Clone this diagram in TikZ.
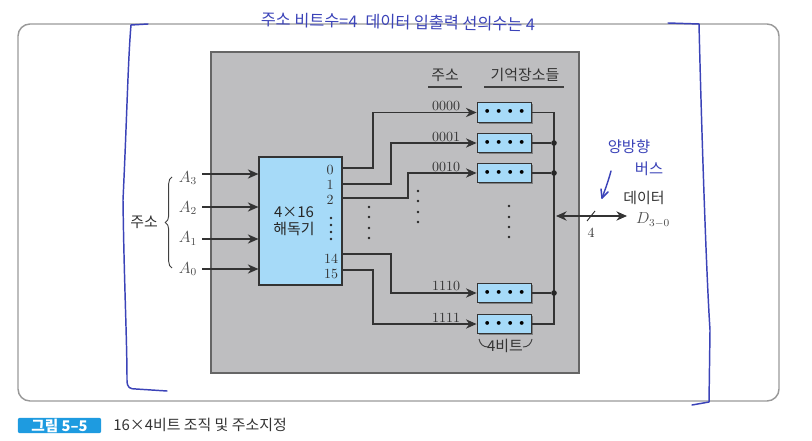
\documentclass[tikz,border=0pt]{standalone}
\usepackage{fontspec}
\newfontfamily\krfont{Noto Sans CJK KR}
\usetikzlibrary{arrows.meta, shadows, decorations.pathreplacing}
\definecolor{panelgray}{HTML}{BEBEC0}
\definecolor{cellblue}{HTML}{A6DAF8}
\definecolor{penblue}{HTML}{3B43B8}
\definecolor{badgeblue}{HTML}{1E9BE0}
\newcommand{\memdots}{\makebox[8.6pt]{\textbullet}\makebox[8.6pt]{\textbullet}\makebox[8.6pt]{\textbullet}\makebox[8.6pt]{\textbullet}}
\begin{document}
\begin{tikzpicture}[
    x=0.75pt,
    y=-0.75pt,
    wire/.style={
        draw=black!80,
        line width=0.8pt,
    },
    feed/.style={
        wire,
        -{Stealth[length=8pt,width=7pt]},
    },
    decoder/.style={
        draw=black!80,
        line width=0.9pt,
        fill=cellblue,
        inner sep=0pt,
        minimum width=62.25pt,
        minimum height=96pt,
        general shadow={shadow xshift=1pt, shadow yshift=-1pt, fill=black!50},
    },
    memcell/.style={
        draw=black!80,
        line width=0.9pt,
        fill=cellblue,
        inner sep=0pt,
        minimum width=41pt,
        minimum height=14.8pt,
        font=\normalsize,
        general shadow={shadow xshift=1.2pt, shadow yshift=-1.2pt, fill=black!50},
    },
    junction/.style={
        circle,
        fill=black!85,
        inner sep=0pt,
        minimum size=4.2pt,
    },
    addr/.style={
        font=\fontsize{10.5}{12}\selectfont,
        text=black!80,
        inner sep=0pt,
    },
    symb/.style={
        font=\fontsize{12}{14}\selectfont,
        text=black!70,
        inner sep=0pt,
    },
    krtext/.style={
        font=\krfont\fontsize{11.2}{13}\selectfont,
        text=black!80,
        inner sep=0pt,
    },
    tinydot/.style={
        circle,
        fill=black!85,
        inner sep=0pt,
        minimum size=1.9pt,
    },
    pen/.style={
        draw=penblue,
        line width=1.1pt,
        line cap=round,
        line join=round,
    },
    pentext/.style={
        text=penblue,
        inner sep=0pt,
    }
]
    \useasboundingbox (0,0) rectangle (812,441);

    % Frame
    \draw[black!40, line width=1.1pt, rounded corners=9pt] (18,24) rectangle (779,401);
    \draw[black!60, fill=panelgray, line width=0.9pt] (211,52) rectangle (579,373);

    % Headers
    \node[krtext] (hdraddr) at (445,75) {주소};
    \node[krtext] (hdrmem) at (525,75) {기억장소들};
    \draw[black!75, line width=0.8pt] (428,87) -- (462,87);
    \draw[black!75, line width=0.8pt] (484,87) -- (564,87);

    % Decoder
    \node[decoder] (dec) at (300.5,221) {};
    \node[krtext, text=black!85] (decsize) at (294,212) {4×16};
    \node[krtext, text=black!85] (decname) at (294,229) {해독기};
    \node[addr] (out0) at (330,170) {0};
    \node[addr] (out1) at (330,185) {1};
    \node[addr] (out2) at (330,200) {2};
    \node[tinydot] (decdota) at (331,218) {};
    \node[tinydot] (decdotb) at (331,225) {};
    \node[tinydot] (decdotc) at (331,232) {};
    \node[tinydot] (decdotd) at (331,239) {};
    \node[addr] (out14) at (331,259) {14};
    \node[addr] (out15) at (331,274) {15};

    % Inputs
    \coordinate (ina3) at (202,174);
    \coordinate (ina2) at (202,207);
    \coordinate (ina1) at (202,239);
    \coordinate (ina0) at (202,269);
    \draw[feed] (ina3) -- (ina3 -| dec.west);
    \draw[feed] (ina2) -- (ina2 -| dec.west);
    \draw[feed] (ina1) -- (ina1 -| dec.west);
    \draw[feed] (ina0) -- (ina0 -| dec.west);
    \node[symb] (lbla3) at (188,178) {$A_3$};
    \node[symb] (lbla2) at (188,208) {$A_2$};
    \node[symb] (lbla1) at (188,238.5) {$A_1$};
    \node[symb] (lbla0) at (188,269) {$A_0$};
    \draw[black!75, line width=0.7pt, decorate, decoration={brace, amplitude=5pt}] (172,268) -- (172,177);
    \node[krtext] (lbladdr) at (144,222) {주소};

    % Memory cells
    \node[memcell] (cell0) at (504.5,112.5) {\memdots};
    \node[memcell] (cell1) at (504.5,143) {\memdots};
    \node[memcell] (cell2) at (504.5,173) {\memdots};
    \node[memcell] (cell14) at (504.5,293) {\memdots};
    \node[memcell] (cell15) at (504.5,324) {\memdots};
    \node[addr] (addr0) at (446,106) {0000};
    \node[addr] (addr1) at (446,136.5) {0001};
    \node[addr] (addr2) at (446,166.5) {0010};
    \node[addr] (addr14) at (446,286) {1110};
    \node[addr] (addr15) at (446,317.5) {1111};

    % Decoder to cells
    \coordinate (port0) at (342,168);
    \coordinate (port1) at (342,184);
    \coordinate (port2) at (342,198);
    \coordinate (port14) at (342,254);
    \coordinate (port15) at (342,270);
    \draw[feed] (port0) -- (373,168) |- (cell0.west);
    \draw[feed] (port1) -- (391,184) |- (cell1.west);
    \draw[feed] (port2) -- (408,198) |- (cell2.west);
    \draw[feed] (port14) -- (391,254) |- (cell14.west);
    \draw[feed] (port15) -- (373,270) |- (cell15.west);

    % Data bus
    \coordinate (bustop) at (554,112.5);
    \coordinate (busend) at (554,324);
    \draw[wire] (cell0.east) -- (bustop) -- (busend) -- (cell15.east);
    \node[junction] (join1) at (554,143) {};
    \node[junction] (join2) at (554,173) {};
    \node[junction] (join14) at (554,293) {};
    \draw[wire] (cell1.east) -- (join1);
    \draw[wire] (cell2.east) -- (join2);
    \draw[wire] (cell14.east) -- (join14);
    \coordinate (busin) at (556,216);
    \coordinate (busout) at (627,216);
    \draw[wire, {Stealth[length=8pt,width=7pt]}-{Stealth[length=8pt,width=7pt]}] (busin) -- (busout);
    \draw[black!80, line width=0.7pt] (587,221) -- (595,211);
    \node[addr] (lblwidth) at (591,233) {4};
    \node[krtext] (lbldata) at (644,198) {데이터};
    \node[symb, font=\fontsize{11.5}{14}\selectfont] (lbld) at (653,220) {$D_{3-0}$};

    % Ellipsis dots
    \node[tinydot] at (369,207) {};
    \node[tinydot] at (369,217) {};
    \node[tinydot] at (369,228) {};
    \node[tinydot] at (369,238) {};
    \node[tinydot] at (418,191) {};
    \node[tinydot] at (418,201) {};
    \node[tinydot] at (418,212) {};
    \node[tinydot] at (418,222) {};
    \node[tinydot] at (509,206) {};
    \node[tinydot] at (509,217) {};
    \node[tinydot] at (509,227) {};
    \node[tinydot] at (509,237) {};

    % Four bit mark
    \node[krtext] (lblbits) at (505,346) {4비트};
    \draw[black!75, line width=0.7pt] (479,339) .. controls (480,344) and (483,347) .. (488,347);
    \draw[black!75, line width=0.7pt] (532,339) .. controls (531,344) and (528,347) .. (523,347);

    % Caption
    \node[fill=badgeblue, rounded corners=1.5pt, text=white, font=\krfont\fontsize{11}{13}\selectfont\bfseries, minimum width=62.5pt, minimum height=11.5pt, inner sep=0pt] (badge) at (59.5,425.5) {그림 5–5};
    \node[krtext, anchor=west] (caption) at (113,425) {16×4비트 조직 및 주소지정};

    % Pen marks
    \node[pentext, font=\krfont\fontsize{12.2}{14}\selectfont, rotate=-1] (pennote) at (398,22) {주소 비트수=4\enspace 데이터 입출력 선의수는 4};
    \node[pentext, font=\krfont\fontsize{11.5}{13}\selectfont] (penbus) at (629,147) {양방향};
    \node[pentext, font=\krfont\fontsize{11.5}{13}\selectfont] (penbusb) at (649,169) {버스};
    \draw[pen] (148,24) -- (131,25) .. controls (128,60) and (127,115) .. (123,200) .. controls (124,280) and (127,340) .. (127,380) .. controls (127,388) and (130,389) .. (136,389) -- (167,391);
    \draw[pen] (668,23) -- (699,24) .. controls (701,110) and (706,270) .. (710,330) -- (709,402) -- (692,405);
    \draw[pen] (611,171) .. controls (608,182) and (605,190) .. (602,198);
    \draw[pen] (602,198) -- (601,189);
    \draw[pen] (602,198) -- (608,192);
\end{tikzpicture}
\end{document}
